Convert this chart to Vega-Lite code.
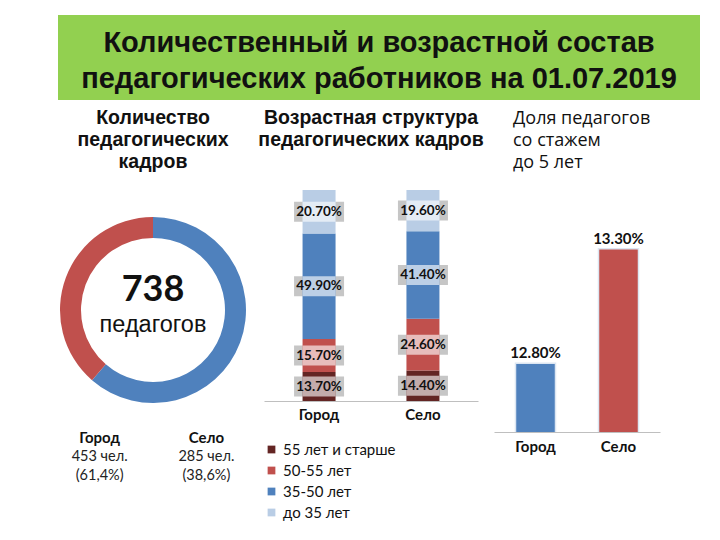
{
  "$schema": "https://vega.github.io/schema/vega-lite/v6.json",
  "padding": {"left": 58, "top": 15, "right": 0, "bottom": 0},
  "background": "white",
  "config": {"view": {"stroke": null}, "font": "Lato"},
  "bounds": "flush",
  "spacing": 80,
  "vconcat": [
    {
      "width": 642,
      "height": 85,
      "view": {"fill": "#92D050", "stroke": null},
      "data": {"values": [{"part": "banner"}]},
      "mark": {
        "type": "text",
        "text": ["Количественный и возрастной состав", "педагогических работников на 01.07.2019"],
        "font": "Liberation Sans, Arial",
        "fontWeight": "bold",
        "fontSize": 29,
        "lineHeight": 36,
        "align": "center",
        "baseline": "middle",
        "dy": -15,
        "color": "#111111"
      },
      "encoding": {}
    },
    {
      "bounds": "flush",
      "spacing": 16,
      "resolve": {"scale": {"color": "independent", "x": "independent", "y": "independent"}, "legend": {"color": "independent"}},
      "hconcat": [
        {
          "width": 190,
          "height": 260,
          "title": {
            "text": ["Количество", "педагогических", "кадров"],
            "font": "Liberation Sans, Arial",
            "fontWeight": "bold",
            "fontSize": 19.5,
            "lineHeight": 22,
            "color": "#111111",
            "offset": 8
          },
          "data": {"values": [
            {"city": "Город", "n": 453, "cnt": "453 чел.", "pct": "(61,4%)"},
            {"city": "Село", "n": 285, "cnt": "285 чел.", "pct": "(38,6%)"}
          ]},
          "layer": [
            {
              "mark": {"type": "arc", "innerRadius": 72, "outerRadius": 93},
              "encoding": {
                "theta": {"field": "n", "type": "quantitative"},
                "order": {"field": "n", "sort": "descending"},
                "color": {"field": "city", "type": "nominal", "scale": {"domain": ["Город", "Село"], "range": ["#4F81BD", "#C0504D"]}, "legend": null}
              }
            },
            {
              "transform": [{"aggregate": [{"op": "sum", "field": "n", "as": "total"}]}],
              "mark": {"type": "text", "fontSize": 36, "fontWeight": "bold", "dy": -20, "color": "#111111", "font": "Lato"},
              "encoding": {"text": {"field": "total", "type": "quantitative"}}
            },
            {
              "transform": [{"aggregate": [{"op": "sum", "field": "n", "as": "total"}]}],
              "mark": {"type": "text", "text": "педагогов", "fontSize": 23.5, "dy": 15, "color": "#111111", "font": "Liberation Sans, Arial"},
              "encoding": {}
            },
            {
              "mark": {"type": "text", "fontSize": 15, "fontWeight": "bold", "dy": 128, "color": "#111111"},
              "encoding": {
                "x": {"field": "city", "type": "nominal", "sort": ["Город", "Село"], "axis": null, "scale": {"padding": 0.39}},
                "text": {"field": "city"}
              }
            },
            {
              "mark": {"type": "text", "fontSize": 14.5, "dy": 147, "color": "#222222"},
              "encoding": {
                "x": {"field": "city", "type": "nominal", "sort": ["Город", "Село"], "axis": null},
                "text": {"field": "cnt"}
              }
            },
            {
              "mark": {"type": "text", "fontSize": 14.5, "dy": 166, "color": "#222222"},
              "encoding": {
                "x": {"field": "city", "type": "nominal", "sort": ["Город", "Село"], "axis": null},
                "text": {"field": "pct"}
              }
            }
          ]
        },
        {
          "width": 214,
          "height": 221,
          "title": {
            "text": ["Возрастная структура", "педагогических кадров"],
            "font": "Liberation Sans, Arial",
            "fontWeight": "bold",
            "fontSize": 19.5,
            "lineHeight": 22,
            "color": "#111111",
            "offset": 30
          },
          "data": {"values": [
            {"city": "Город", "age": "55 лет и старше", "ord": 1, "v": 0.137},
            {"city": "Город", "age": "50-55 лет", "ord": 2, "v": 0.157},
            {"city": "Город", "age": "35-50 лет", "ord": 3, "v": 0.499},
            {"city": "Город", "age": "до 35 лет", "ord": 4, "v": 0.207},
            {"city": "Село", "age": "55 лет и старше", "ord": 1, "v": 0.144},
            {"city": "Село", "age": "50-55 лет", "ord": 2, "v": 0.246},
            {"city": "Село", "age": "35-50 лет", "ord": 3, "v": 0.414},
            {"city": "Село", "age": "до 35 лет", "ord": 4, "v": 0.196}
          ]},
          "transform": [
            {"stack": "v", "groupby": ["city"], "sort": [{"field": "ord", "order": "ascending"}], "as": ["v0", "v1"]},
            {"calculate": "(datum.v0 + datum.v1) / 2", "as": "vm"}
          ],
          "encoding": {
            "x": {
              "field": "city", "type": "nominal", "sort": ["Город", "Село"],
              "scale": {"paddingInner": 0, "paddingOuter": 0.03},
              "axis": {"title": null, "labelAngle": 0, "labelFontWeight": "bold", "labelFontSize": 15, "labelColor": "#111111", "ticks": false, "domainColor": "#bfbfbf", "labelPadding": 6}
            }
          },
          "layer": [
            {
              "mark": {"type": "point", "shape": "M-2.5,-1H2.5V1H-2.5Z", "size": 400, "filled": true, "fill": "#c6c6c6", "opacity": 1, "strokeWidth": 0},
              "encoding": {"y": {"field": "vm", "type": "quantitative", "scale": {"domain": [0, 1.047], "nice": false}, "axis": null}}
            },
            {
              "mark": {"type": "bar", "width": 33},
              "encoding": {
                "y": {"field": "v0", "type": "quantitative"},
                "y2": {"field": "v1"},
                "color": {
                  "field": "age", "type": "nominal",
                  "scale": {"domain": ["55 лет и старше", "50-55 лет", "35-50 лет", "до 35 лет"], "range": ["#632523", "#C0504D", "#4F81BD", "#B9CDE5"]},
                  "legend": {"orient": "bottom", "direction": "vertical", "title": null, "symbolType": "square", "symbolSize": 60, "symbolStrokeWidth": 0, "labelFontSize": 15, "labelFont": "Lato", "labelColor": "#111111", "rowPadding": 5, "offset": 20}
                }
              }
            },
            {
              "mark": {"type": "point", "shape": "M-1.65,-1H1.65V1H-1.65Z", "size": 400, "filled": true, "fill": "#ffffff", "opacity": 0.62, "strokeWidth": 0},
              "encoding": {"y": {"field": "vm", "type": "quantitative"}}
            },
            {
              "mark": {"type": "text", "fontWeight": "bold", "fontSize": 13.5, "color": "#111111"},
              "encoding": {
                "y": {"field": "vm", "type": "quantitative"},
                "text": {"field": "v", "type": "quantitative", "format": ".2%"}
              }
            }
          ]
        },
        {
          "width": 166,
          "height": 252,
          "title": {
            "text": ["Доля педагогов", "со стажем", "до 5 лет"],
            "font": "Open Sans",
            "fontWeight": "normal",
            "fontSize": 18,
            "lineHeight": 22,
            "color": "#111111",
            "anchor": "start",
            "dx": 19,
            "offset": 8
          },
          "data": {"values": [
            {"city": "Город", "v": 0.128},
            {"city": "Село", "v": 0.133}
          ]},
          "encoding": {
            "x": {
              "field": "city", "type": "nominal", "sort": ["Город", "Село"],
              "scale": {"paddingInner": 0, "paddingOuter": 0},
              "axis": {"title": null, "labelAngle": 0, "labelFontWeight": "bold", "labelFontSize": 15, "labelColor": "#111111", "ticks": false, "domainColor": "#bfbfbf", "labelPadding": 7}
            },
            "y": {"field": "v", "type": "quantitative", "scale": {"domain": [0.125, 0.136], "nice": false, "zero": false}, "axis": null}
          },
          "layer": [
            {
              "mark": {"type": "bar", "width": 40, "stroke": "#dce6f2", "strokeWidth": 1.5, "clip": true},
              "encoding": {
                "color": {"field": "city", "type": "nominal", "scale": {"domain": ["Город", "Село"], "range": ["#4F81BD", "#C0504D"]}, "legend": null}
              }
            },
            {
              "mark": {"type": "text", "dy": -10, "fontWeight": "bold", "fontSize": 15, "color": "#111111"},
              "encoding": {"text": {"field": "v", "type": "quantitative", "format": ".2%"}}
            }
          ]
        }
      ]
    }
  ]
}
